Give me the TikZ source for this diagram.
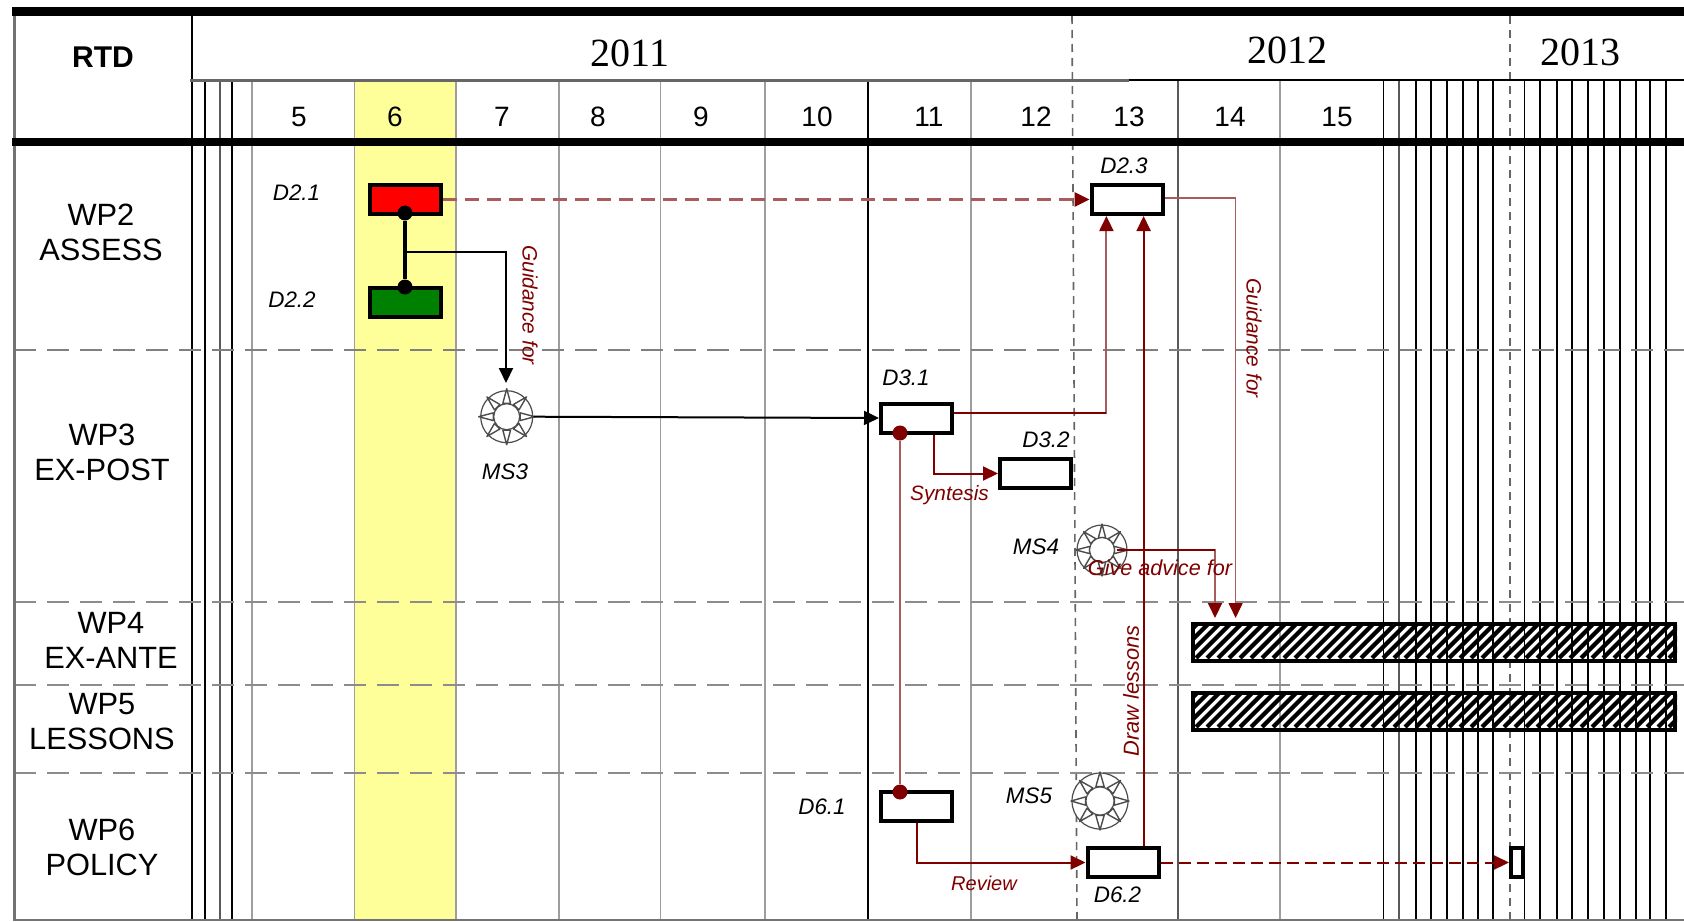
\documentclass[tikz,border=0pt]{standalone}
\usepackage{fontspec}
\setmainfont{Liberation Sans}
\newfontfamily\yearfont{Liberation Serif}
\usetikzlibrary{arrows.meta,calc}
\definecolor{darkr}{HTML}{800000}
\definecolor{lightr}{HTML}{A85C5C}
\definecolor{yellowband}{HTML}{FFFF99}
\tikzset{
  wplabel/.style={inner sep=0pt,align=center,font=\fontsize{15.4}{17.5}\selectfont},
  monthlabel/.style={inner sep=0pt,font=\fontsize{14}{16}\selectfont},
  yearlabel/.style={inner sep=0pt,font=\yearfont\fontsize{20}{22}\selectfont},
  delivlabel/.style={inner sep=0pt,font=\itshape\fontsize{11.2}{13}\selectfont},
  linklabel/.style={inner sep=0pt,text=darkr,font=\itshape\fontsize{10.4}{12}\selectfont},
  wbox/.style={draw=black,line width=2pt,fill=white,minimum width=35.5pt,minimum height=14.5pt,inner sep=0pt},
  ganttbar/.style={draw=black,line width=2pt,minimum width=241pt,minimum height=18.5pt,inner sep=0pt},
  dotb/.style={circle,fill=black,inner sep=0pt,minimum size=7.5pt},
  dotr/.style={circle,fill=darkr,inner sep=0pt,minimum size=7.5pt},
  sun/.style={circle,draw=black!70,line width=.6pt,fill=white,inner sep=0pt},
  blk/.style={black,line width=1pt},
  darkline/.style={darkr,line width=1pt},
  lightline/.style={lightr,line width=.8pt},
  tipb/.style={-{Triangle[length=7.5pt,width=7pt]}},
  gridk/.style={black,line width=.9pt},
  gridg/.style={black!38,line width=.9pt},
  rowdash/.style={black!45,line width=1.4pt,dash pattern=on 11pt off 5.5pt},
  yeardash/.style={black!60,line width=.8pt,dash pattern=on 4pt off 3pt},
}
\newcommand{\sunrays}[3]{% node, base radius, tip radius
  \foreach \a in {0,45,...,315}{
    \draw[black!70,line width=.7pt,fill=white,line join=round]
      ($(#1)+(\a-16:#2)$) -- ($(#1)+(\a:#3)$) -- ($(#1)+(\a+16:#2)$) -- cycle;
  }}
\begin{document}
\begin{tikzpicture}[x=0.5pt,y=-0.5pt]
\useasboundingbox (0,0) rectangle (1684,921);
\fill[white] (0,0) rectangle (1684,921);
% yellow month band
\fill[yellowband] (354.5,80) rectangle (456,921);
% grid
\foreach \x in {205,232,868,1383.5,1416,1431,1447,1463,1478,1493,1524.5,1540,1557,1572,1588,1604,1620,1636,1650,1666}
  \draw[gridk] (\x,80) -- (\x,921);
\foreach \x in {220,1399,1178}
  \draw[black!65,line width=.9pt] (\x,80) -- (\x,921);
\foreach \x in {252,354.5,456,559,660.5,765,971,1280}
  \draw[gridg] (\x,80) -- (\x,921);
\draw[gridk] (192,14) -- (192,921);
% year separators
\draw[yeardash] (1072,16) -- (1077,921);
\draw[yeardash] (1510,16) -- (1510,921);
% row separators
\draw[black!50,line width=.9pt,dash pattern=on 11pt off 5.5pt] (14,350) -- (1684,350);
\draw[rowdash] (14,602) -- (1684,602);
\draw[rowdash] (14,685) -- (1684,685);
\draw[rowdash] (14,773) -- (1684,773);
% frame and header rules
\draw[black!60,line width=1.5pt] (190,80) -- (1129,80);
\draw[black,line width=1pt] (1129,80) -- (1684,80);
\draw[black!55,line width=1.5pt] (14,7) -- (14,921);
\draw[black!55,line width=1pt] (14,920) -- (1684,920);
\draw[black,line width=4.5pt] (12,11.5) -- (1684,11.5);
\draw[black,line width=4pt] (12,142) -- (1684,142);
% header text
\node[inner sep=0pt,font=\bfseries\fontsize{15}{17}\selectfont] (rtd) at (103,57) {RTD};
\node[yearlabel] (y11) at (630,53) {2011};
\node[yearlabel] (y12) at (1287,50) {2012};
\node[yearlabel] (y13) at (1580,52) {2013};
\node[monthlabel] (m5) at (299,117) {5};
\node[monthlabel] (m6) at (395,117) {6};
\node[monthlabel] (m7) at (502,117) {7};
\node[monthlabel] (m8) at (598,117) {8};
\node[monthlabel] (m9) at (701,117) {9};
\node[monthlabel] (m10) at (817,117) {10};
\node[monthlabel] (m11) at (929,117) {11};
\node[monthlabel] (m12) at (1036,117) {12};
\node[monthlabel] (m13) at (1129,117) {13};
\node[monthlabel] (m14) at (1230,117) {14};
\node[monthlabel] (m15) at (1337,117) {15};
% row labels
\node[wplabel] (wp2) at (101,232) {WP2\\ASSESS};
\node[wplabel] (wp3) at (102,452) {WP3\\EX-POST};
\node[wplabel] (wp4) at (111,640) {WP4\\EX-ANTE};
\node[wplabel] (wp5) at (102,722) {WP5\\LESSONS};
\node[wplabel] (wp6) at (102,847) {WP6\\POLICY};
% hatched bars
\node[ganttbar] (bar4) at (1434,642.5) {};
\node[ganttbar] (bar5) at (1434,711.5) {};
\foreach \b in {bar4,bar5}{
  \begin{scope}
    \clip (\b.south west) rectangle (\b.north east);
    \foreach \i in {0,11,...,550}
      \draw[black,line width=2.1pt] ($(\b.south west)+(\i-50,-5)$) -- ++(60,-60);
  \end{scope}
}
% deliverable boxes
\node[wbox,fill=red] (d21) at (405.5,199.5) {};
\node[wbox,fill=black!50!green] (d22) at (405.5,302.5) {};
\node[wbox] (d23) at (1127,199.5) {};
\node[wbox] (d31) at (916.5,418) {};
\node[wbox] (d32) at (1035.5,473.5) {};
\node[wbox] (d61) at (916.5,806.5) {};
\node[wbox] (d62) at (1123,862.5) {};
\node[wbox,minimum width=6pt] (end) at (1517,862.5) {};
% milestones
\node[sun,minimum size=26pt] (ms3) at (506.7,416.7) {};
\node[sun,minimum size=25pt] (ms4) at (1102,550) {};
\node[sun,minimum size=28pt] (ms5) at (1100,801) {};
\sunrays{ms3}{14}{28}
\sunrays{ms4}{13}{26}
\sunrays{ms5}{15}{29}
\node[sun,minimum size=13pt] at (ms3) {};
\node[sun,minimum size=12.5pt] at (ms4) {};
\node[sun,minimum size=14pt] at (ms5) {};
% dots
\node[dotb] (dot21) at (405,213) {};
\node[dotb] (dot22) at (405,287) {};
\node[dotr] (dot31) at (900,433) {};
\node[dotr] (dot61) at (900,792) {};
% helper coordinates
\coordinate (branch) at (405,252);
\coordinate (gtip) at (506,383);
\coordinate (c31) at (1106.4,413);
\coordinate (c62) at (1143.6,216);
\coordinate (c23) at (1235.6,197.7);
\coordinate (bartip1) at (1215,618);
\coordinate (bartip2) at (1235.6,618);
\coordinate (c32) at (934,474);
\coordinate (c61) at (916.5,863);
\coordinate (sunout) at (1117,550);
% connectors
\draw[black,line width=1.6pt] (dot21) -- (dot22);
\draw[blk,tipb] (branch) -| (gtip);
\draw[blk,tipb] (ms3) ++(27,0) -- (d31.west);
\draw[lightline,line width=1.4pt,dash pattern=on 7pt off 4pt,-{Triangle[length=7.5pt,width=7pt,darkr]}] (d21.east) -- (d23.west);
\draw[darkline,lightr,tipb,-{Triangle[length=7.5pt,width=7pt,darkr]}] (c31 -| d31.east) -| (c31 |- d23.south);
\draw[darkr,line width=.9pt] (c31 -| d31.east) -- (c31);
\draw[darkline,tipb] (d62.north -| c62) -- (c62);
\draw[lightline,-{Triangle[length=7.5pt,width=7pt,darkr]}] (d23.east |- c23) -| (bartip2);
\draw[darkline,lightr,-{Triangle[length=7.5pt,width=7pt,darkr]}] (sunout) -| (bartip1);
\draw[darkr,line width=1pt] (sunout) -- (sunout -| bartip1);
\draw[lightline] (dot31) -- (dot61);
\draw[darkline,tipb] (c32 |- d31.south) |- (d32.west);
\draw[darkline,tipb] (d61.south) |- (d62.west);
\draw[darkline,dash pattern=on 6pt off 3pt,-{Triangle[length=7.5pt,width=7pt,darkr]}] (d62.east) -- (end.west);
% deliverable labels
\node[delivlabel] (l21) at (296.5,193) {D2.1};
\node[delivlabel] (l22) at (292,300) {D2.2};
\node[delivlabel] (l23) at (1124,166) {D2.3};
\node[delivlabel] (l31) at (906,378) {D3.1};
\node[delivlabel] (l32) at (1046,440) {D3.2};
\node[delivlabel] (l61) at (822,807) {D6.1};
\node[delivlabel] (l62) at (1117.5,895) {D6.2};
\node[delivlabel] (lm3) at (505,472) {MS3};
\node[delivlabel] (lm4) at (1036,547) {MS4};
\node[delivlabel] (lm5) at (1029,796) {MS5};
% link labels
\node[linklabel,rotate=-90] (gf1) at (530,305) {Guidance for};
\node[linklabel,rotate=-90] (gf2) at (1254,338) {Guidance for};
\node[linklabel] (syn) at (949.5,495) {Syntesis};
\node[linklabel,font=\itshape\fontsize{10.8}{12}\selectfont] (adv) at (1160,568) {Give advice for};
\node[linklabel,rotate=90,font=\itshape\fontsize{10.9}{12}\selectfont] (draw) at (1131,691) {Draw lessons};
\node[linklabel,font=\itshape\fontsize{10}{12}\selectfont] (rev) at (984,883) {Review};
\end{tikzpicture}
\end{document}
